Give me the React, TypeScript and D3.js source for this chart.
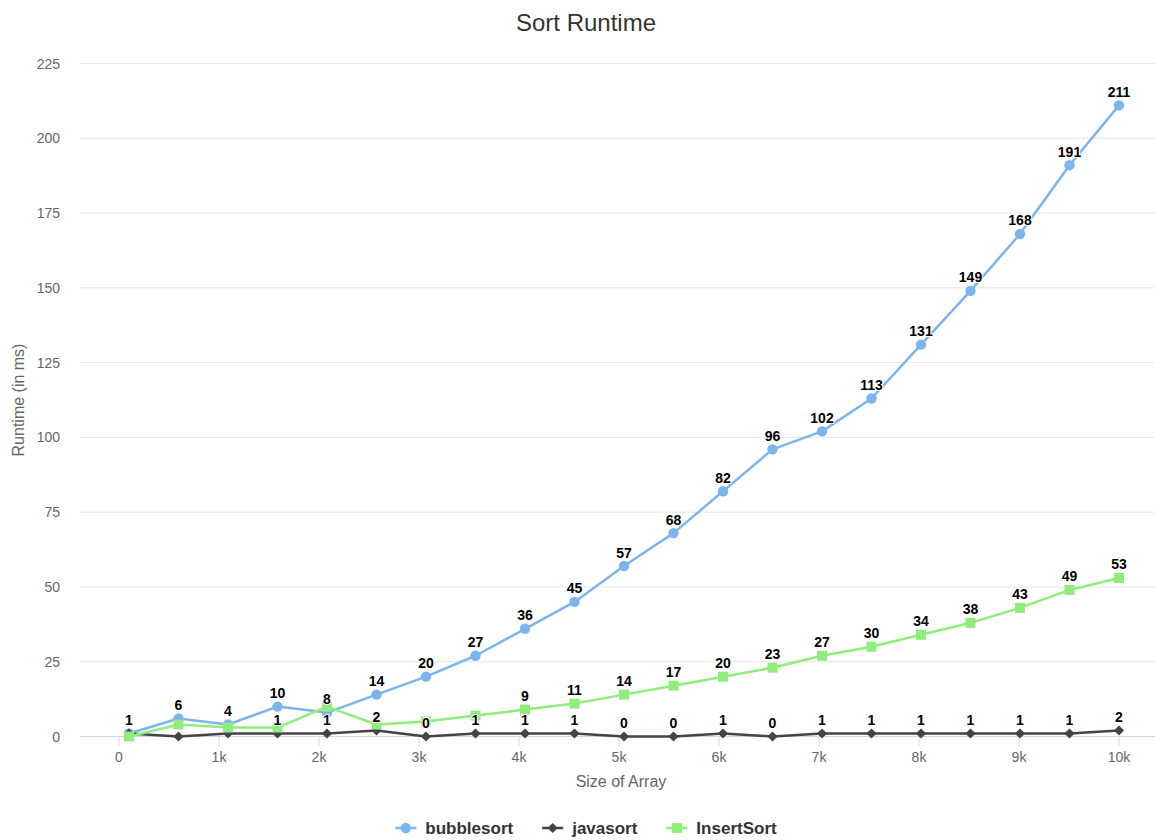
import React from "react";
import * as d3 from "d3";

const sizes = [100, 595, 1090, 1585, 2080, 2575, 3070, 3565, 4060, 4555, 5050, 5545, 6040, 6535, 7030, 7525, 8020, 8515, 9010, 9505, 10000];
const bubblesort = [1, 6, 4, 10, 8, 14, 20, 27, 36, 45, 57, 68, 82, 96, 102, 113, 131, 149, 168, 191, 211];
const javasort = [1, 0, 1, 1, 1, 2, 0, 1, 1, 1, 0, 0, 1, 0, 1, 1, 1, 1, 1, 1, 2];
const insertSort = [0, 4, 3, 3, 10, 4, 5, 7, 9, 11, 14, 17, 20, 23, 27, 30, 34, 38, 43, 49, 53];
const seriesNames = ["bubblesort", "javasort", "InsertSort"];
const seriesColors = ["#7cb5ec", "#434348", "#90ed7d"];
const seriesSymbols = ["circle", "diamond", "square"];
const xTicks = [0, 1000, 2000, 3000, 4000, 5000, 6000, 7000, 8000, 9000, 10000];
const yTicks = [0, 25, 50, 75, 100, 125, 150, 175, 200, 225];

const FONT = '"Liberation Sans", Arial, Helvetica, sans-serif';
const W = 1155;
const H = 840;
const CHART_W = 1172;
const plotLeft = 80;
const plotRight = 1162;

const x = d3.scaleLinear().domain([0, 10000]).range([119, 1119]);
const y = d3.scaleLinear().domain([0, 225]).range([736.5, 63.5]);

let ctx: CanvasRenderingContext2D | null = null;
function textWidth(t: string, font: string) {
  if (!ctx) {
    const c = document.createElement("canvas");
    ctx = c.getContext("2d");
  }
  if (!ctx) return t.length * 8;
  ctx.font = font;
  return ctx.measureText(t).width;
}

function markerPath(kind: string) {
  if (kind === "circle") return d3.symbol(d3.symbolCircle, Math.PI * 27)();
  if (kind === "square") return d3.symbol(d3.symbolSquare, 100)();
  return d3.symbol(d3.symbolSquare, 52)();
}

function Marker({ kind, cx, cy, color }: { kind: string; cx: number; cy: number; color: string }) {
  const rot = kind === "diamond" ? " rotate(45)" : "";
  return <path d={markerPath(kind) || ""} transform={`translate(${cx},${cy})${rot}`} fill={color} />;
}

export default function App() {
  const allSeries = [bubblesort, javasort, insertSort];
  const line = d3
    .line<number>()
    .x((_, i) => x(sizes[i]))
    .y((d) => y(d));

  // data labels with overlap hiding (series order priority)
  const labelFont = `bold 14px ${FONT}`;
  type Box = { x0: number; x1: number; y0: number; y1: number };
  const placed: Box[] = [];
  const labels: { x: number; y: number; text: string; key: string }[] = [];
  allSeries.forEach((s, si) => {
    s.forEach((v, i) => {
      const px = x(sizes[i]);
      const py = y(v);
      const t = String(v);
      const w = textWidth(t, labelFont) + 6;
      const cy = py - 13.5;
      const box = { x0: px - w / 2, x1: px + w / 2, y0: cy - 10, y1: cy + 10 };
      const hit = placed.some((b) => b.x0 < box.x1 && box.x0 < b.x1 && b.y0 < box.y1 && box.y0 < b.y1);
      if (!hit) {
        placed.push(box);
        labels.push({ x: px, y: py - 8.5, text: t, key: `${si}-${i}` });
      }
    });
  });

  // legend layout
  const legendFont = `bold 17px ${FONT}`;
  const symW = 21;
  const symGap = 9;
  const itemGap = 29;
  const itemWidths = seriesNames.map((n) => symW + symGap + textWidth(n, legendFont));
  const totalW = itemWidths.reduce((a, b) => a + b, 0) + itemGap * (seriesNames.length - 1);
  let lx = CHART_W / 2 - totalW / 2;
  const legendItems = seriesNames.map((n, i) => {
    const it = { x: lx, name: n, i };
    lx += itemWidths[i] + itemGap;
    return it;
  });
  const legendY = 828;

  return (
    <div style={{ position: "absolute", left: 0, top: 0, width: W, height: H, overflow: "hidden", background: "#fff" }}>
      <svg width={W} height={H} style={{ display: "block", fontFamily: FONT }}>
        <rect x={0} y={0} width={W} height={H} fill="#ffffff" />
        <text x={CHART_W / 2} y={31} textAnchor="middle" fontSize={24} fill="#333333">
          Sort Runtime
        </text>

        {/* grid */}
        {yTicks.map((t) => (
          <line key={`g${t}`} x1={plotLeft} x2={plotRight} y1={y(t)} y2={y(t)} stroke="#e6e6e6" strokeWidth={1} />
        ))}
        {/* x axis */}
        <line x1={plotLeft} x2={plotRight} y1={y(0)} y2={y(0)} stroke="#ccd6eb" strokeWidth={1} />
        {xTicks.map((t) => (
          <g key={`xt${t}`}>
            <line x1={x(t)} x2={x(t)} y1={y(0)} y2={y(0) + 10} stroke="#ccd6eb" strokeWidth={1} />
            <text x={x(t)} y={762} textAnchor="middle" fontSize={14} fill="#666666">
              {t === 0 ? "0" : `${t / 1000}k`}
            </text>
          </g>
        ))}
        {yTicks.map((t) => (
          <text key={`yl${t}`} x={60} y={y(t) + 5} textAnchor="end" fontSize={14} fill="#666666">
            {t}
          </text>
        ))}
        <text x={(plotLeft + plotRight) / 2} y={787} textAnchor="middle" fontSize={16} fill="#666666">
          Size of Array
        </text>
        <text
          transform={`translate(24,${(y(0) + y(225)) / 2}) rotate(-90)`}
          textAnchor="middle"
          fontSize={16}
          fill="#666666"
        >
          Runtime (in ms)
        </text>

        {/* series */}
        {allSeries.map((s, si) => (
          <g key={`s${si}`}>
            <path d={line(s) || ""} fill="none" stroke={seriesColors[si]} strokeWidth={2.5} strokeLinejoin="round" strokeLinecap="round" />
            {s.map((v, i) => (
              <Marker key={i} kind={seriesSymbols[si]} cx={x(sizes[i])} cy={y(v)} color={seriesColors[si]} />
            ))}
          </g>
        ))}

        {/* data labels */}
        {labels.map((l) => (
          <text
            key={l.key}
            x={l.x}
            y={l.y}
            textAnchor="middle"
            fontSize={14}
            fontWeight="bold"
            fill="#000000"
            stroke="#ffffff"
            strokeWidth={2}
            strokeLinejoin="round"
            style={{ paintOrder: "stroke" }}
          >
            {l.text}
          </text>
        ))}

        {/* legend */}
        {legendItems.map((it) => (
          <g key={`lg${it.i}`}>
            <line x1={it.x} x2={it.x + symW} y1={legendY} y2={legendY} stroke={seriesColors[it.i]} strokeWidth={2.5} />
            <Marker kind={seriesSymbols[it.i]} cx={it.x + symW / 2} cy={legendY} color={seriesColors[it.i]} />
            <text x={it.x + symW + symGap} y={legendY + 6} fontSize={17} fontWeight="bold" fill="#333333">
              {it.name}
            </text>
          </g>
        ))}
      </svg>
    </div>
  );
}
